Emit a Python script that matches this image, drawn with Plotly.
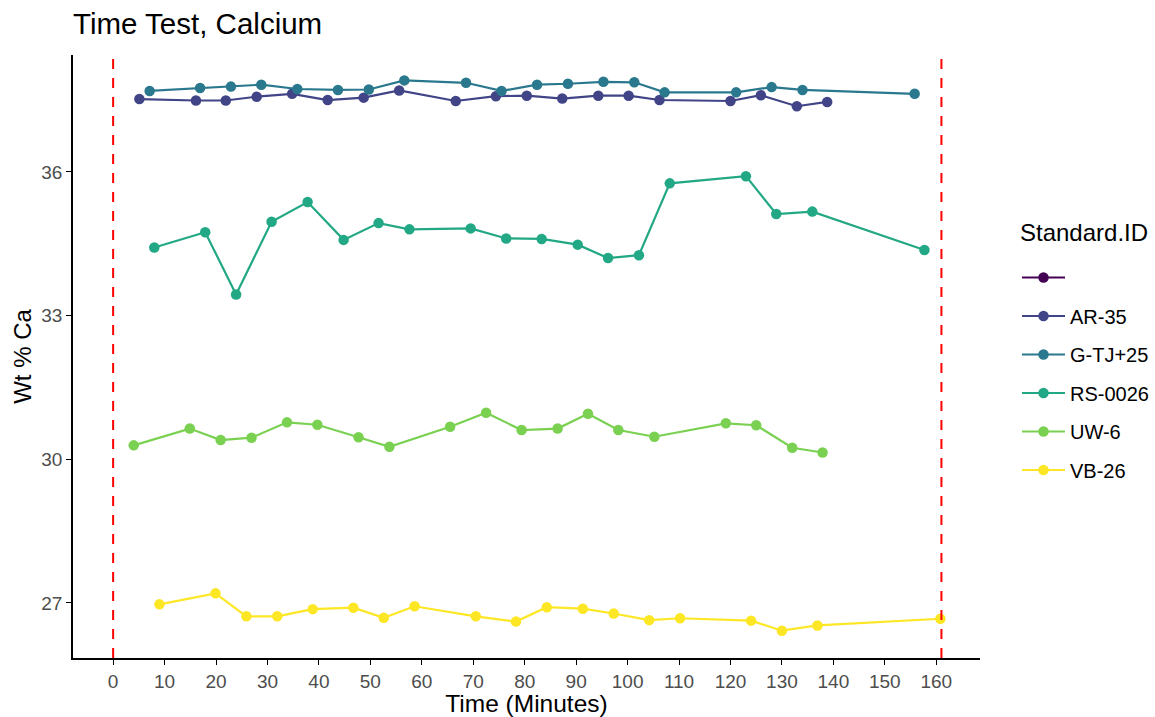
import plotly.graph_objects as go

# Elapsed time (minutes) and measured Ca (wt %) for each standard
ar35_t = [5.1, 16.1, 21.9, 27.9, 34.8, 41.7, 48.7, 55.6, 66.6, 74.4, 80.4, 87.3, 94.3, 100.2, 106.2, 120.0, 125.9, 132.9, 138.8]
ar35_ca = [37.52, 37.49, 37.49, 37.57, 37.63, 37.50, 37.55, 37.70, 37.48, 37.58, 37.59, 37.53, 37.59, 37.59, 37.50, 37.48, 37.60, 37.37, 37.46]

gtj_t = [7.1, 16.9, 22.9, 28.8, 35.8, 43.7, 49.7, 56.6, 68.6, 75.5, 82.4, 88.4, 95.3, 101.3, 107.2, 121.1, 128.0, 134.0, 155.8]
gtj_ca = [37.69, 37.75, 37.78, 37.82, 37.73, 37.71, 37.72, 37.91, 37.86, 37.69, 37.82, 37.84, 37.88, 37.87, 37.66, 37.66, 37.77, 37.71, 37.63]

rs_t = [8.0, 17.9, 23.9, 30.8, 37.8, 44.8, 51.6, 57.6, 69.5, 76.4, 83.3, 90.3, 96.2, 102.2, 108.2, 123.0, 128.9, 135.9, 157.7]
rs_ca = [34.42, 34.74, 33.44, 34.96, 35.37, 34.58, 34.93, 34.80, 34.82, 34.61, 34.60, 34.48, 34.20, 34.26, 35.76, 35.91, 35.12, 35.17, 34.37]

uw_t = [4.0, 14.9, 20.9, 26.9, 33.8, 39.7, 47.7, 53.7, 65.5, 72.5, 79.4, 86.4, 92.3, 98.2, 105.2, 119.1, 125.0, 132.0, 137.9]
uw_ca = [30.29, 30.64, 30.40, 30.45, 30.77, 30.72, 30.46, 30.26, 30.68, 30.97, 30.61, 30.64, 30.95, 30.61, 30.47, 30.75, 30.71, 30.24, 30.14]

vb_t = [9.0, 19.9, 25.9, 31.9, 38.8, 46.7, 52.6, 58.6, 70.5, 78.3, 84.3, 91.3, 97.3, 104.2, 110.2, 124.0, 130.0, 136.9, 160.8]
vb_ca = [26.97, 27.20, 26.72, 26.72, 26.87, 26.90, 26.69, 26.93, 26.72, 26.61, 26.91, 26.88, 26.78, 26.64, 26.68, 26.63, 26.42, 26.53, 26.67]

# Run window boundaries (minutes)
run_bounds = [0, 161]

x_ticks = list(range(0, 161, 10))
y_ticks = [27, 30, 33, 36]

series = [
    (" ", [None], [None], "#440154"),
    ("AR-35", ar35_t, ar35_ca, "#414487"),
    ("G-TJ+25", gtj_t, gtj_ca, "#2A788E"),
    ("RS-0026", rs_t, rs_ca, "#22A884"),
    ("UW-6", uw_t, uw_ca, "#7AD151"),
    ("VB-26", vb_t, vb_ca, "#FDE725"),
]

fig = go.Figure()
for name, t, ca, color in series:
    fig.add_trace(go.Scatter(
        x=t, y=ca, name=name, mode="lines+markers",
        line=dict(color=color, width=2.2),
        marker=dict(color=color, size=10.5),
        legendgroup=name,
    ))

for b in run_bounds:
    fig.add_shape(type="line", xref="x", yref="paper", x0=b, x1=b, y0=0, y1=1,
                  line=dict(color="#FF0000", width=2, dash="10px,9px"), layer="above")

W, H = 1155, 717
L, R, T, B = 73, 175, 55, 59
plot_w, plot_h = W - L - R, H - T - B

font = "Liberation Sans, Arial, sans-serif"

# Legend heading placed as its own text block above the entries
fig.add_annotation(
    text="Standard.ID", xref="paper", yref="paper",
    x=(1018 - L) / plot_w, y=(H - B - 232) / plot_h,
    xanchor="left", yanchor="middle", showarrow=False,
    font=dict(size=24, color="black", family=font),
)

fig.update_layout(
    width=W, height=H,
    margin=dict(l=L, r=R, t=T, b=B, autoexpand=False),
    paper_bgcolor="white", plot_bgcolor="white",
    font=dict(family=font, color="black"),
    title=dict(text="Time Test, Calcium", x=L / W, xanchor="left",
               y=1 - 24 / H, yanchor="middle", font=dict(size=29.5, color="black")),
    showlegend=True,
    legend=dict(
        font=dict(size=20, color="black"),
        x=(1017 - L) / plot_w, xanchor="left",
        y=(H - B - 258) / plot_h, yanchor="top",
        tracegroupgap=9.5, itemwidth=43, bgcolor="rgba(0,0,0,0)",
    ),
    xaxis=dict(
        range=[-7.8, 168.5], tickvals=x_ticks, ticks="outside", ticklen=5,
        tickcolor="black", tickwidth=1.3, showline=True, linecolor="black", linewidth=1.6,
        showgrid=False, zeroline=False, automargin=False,
        tickfont=dict(size=19, color="#4D4D4D"),
        title=dict(text="Time (Minutes)", font=dict(size=24.5), standoff=4),
    ),
    yaxis=dict(
        range=[25.85, 38.44], tickvals=y_ticks, ticks="outside", ticklen=5,
        tickcolor="black", tickwidth=1.3, showline=True, linecolor="black", linewidth=1.6,
        showgrid=False, zeroline=False, automargin=False,
        tickfont=dict(size=19, color="#4D4D4D"),
        title=dict(text="Wt % Ca", font=dict(size=24), standoff=3),
    ),
)

fig.write_html("out.html")
